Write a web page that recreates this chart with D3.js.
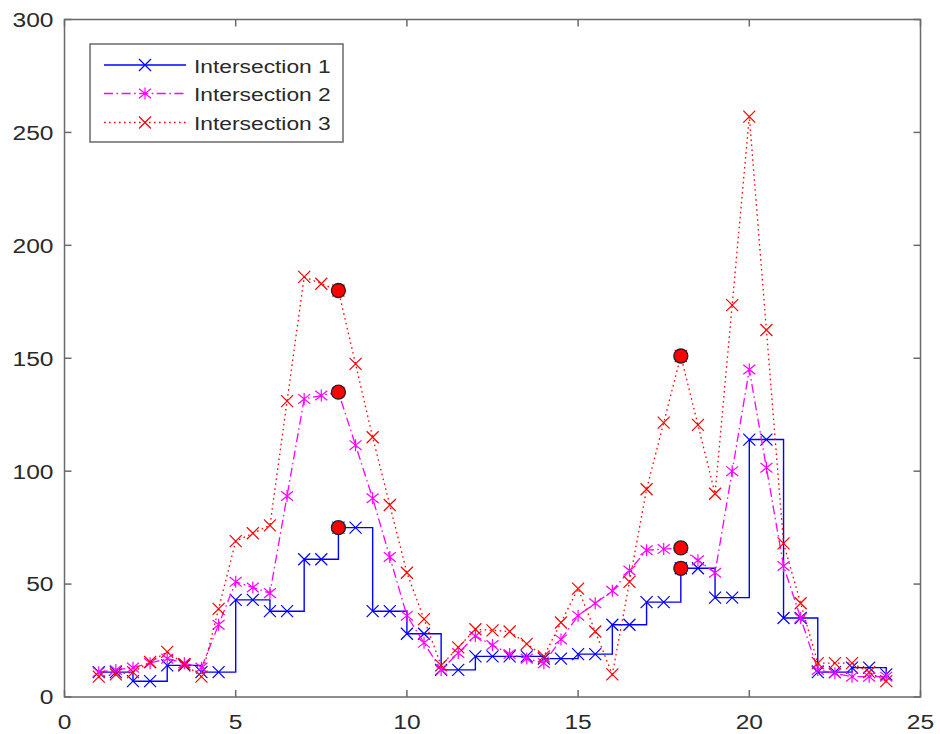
<!DOCTYPE html>
<html>
<head>
<meta charset="utf-8">
<script src="https://cdn.jsdelivr.net/npm/d3@7"></script>
<style>
  html, body { margin: 0; padding: 0; background: #fff; }
  svg { display: block; }
</style>
</head>
<body>
<svg id="chart" width="940" height="734"></svg>
<script>
// ---------- data ----------
const xValues = [1,1.5,2,2.5,3,3.5,4,4.5,5,5.5,6,6.5,7,7.5,8,8.5,9,9.5,10,10.5,11,11.5,12,12.5,
                 13,13.5,14,14.5,15,15.5,16,16.5,17,17.5,18,18.5,19,19.5,20,20.5,21,21.5,22,22.5,23,23.5,24];
const intersection1 = [11,11,7,7,14,14,11,11,43,43,38,38,61,61,75,75,38,38,28,28,12,12,18,18,
                       18,18,17,17,19,19,32,32,42,42,57,57,44,44,114,114,35,35,11,11,13,13,10];
const intersection2 = [11,12,13,15,17,15,13,32,51,48.5,46,89,132,133.5,135,111.5,88,62,36,24,12,19.5,27,23,
                       19,17,15,25.5,36,41.5,47,56,65,65.5,66,60.5,55,100,145,101.5,58,35,12,10.5,9,9,9];
const intersection3 = [9,10,11,15.5,20,14.5,9,39,69,72.5,76,131,186,183,180,147.5,115,85,55,34.5,14,22,30,29.5,
                       29,23.5,18,33,48,29,10,51,92,121.5,151,120.5,90,173.5,257,162.5,68,41.5,15,15,15,11,7];
const highlightX = [8,8,8,18,18,18];
const highlightY = [75,135,180,57,66,151];
const seriesNames = ["Intersection 1","Intersection 2","Intersection 3"];
const xTicks = [0,5,10,15,20,25];
const yTicks = [0,50,100,150,200,250,300];

// ---------- layout ----------
const svg = d3.select("#chart");
const L = 64.5, R = 920.5, T = 19.5, B = 697;
const x = d3.scaleLinear().domain([0,25]).range([L,R]);
const y = d3.scaleLinear().domain([0,300]).range([B,T]);
const textColor = "#2a2a2a";
const axisColor = "#6a6a6a";
const font = "'Liberation Sans', Arial, Helvetica, sans-serif";

function scaledText(parent, px, py, str, size, sx, anchor, baseline) {
  const g = parent.append("g").attr("transform", `translate(${px},${py})`);
  g.append("text")
    .attr("transform", `scale(${sx},1)`)
    .attr("text-anchor", anchor)
    .attr("dominant-baseline", baseline || "central")
    .attr("font-family", font)
    .attr("font-size", size)
    .attr("fill", textColor)
    .text(str);
  return g;
}

// ---------- axes (box, inward ticks on all sides) ----------
const axisG = svg.append("g");
axisG.append("rect").attr("x", L).attr("y", T).attr("width", R - L).attr("height", B - T)
  .attr("fill", "none").attr("stroke", axisColor).attr("stroke-width", 1.5);

const tickLen = 7;
xTicks.forEach(t => {
  const px = x(t);
  axisG.append("line").attr("x1", px).attr("x2", px).attr("y1", B).attr("y2", B - tickLen)
    .attr("stroke", axisColor).attr("stroke-width", 1.5);
  axisG.append("line").attr("x1", px).attr("x2", px).attr("y1", T).attr("y2", T + tickLen)
    .attr("stroke", axisColor).attr("stroke-width", 1.5);
  scaledText(axisG, px, 722, String(t), 21, 1.17, "middle");
});
yTicks.forEach(t => {
  const py = y(t);
  axisG.append("line").attr("x1", L).attr("x2", L + tickLen).attr("y1", py).attr("y2", py)
    .attr("stroke", axisColor).attr("stroke-width", 1.5);
  axisG.append("line").attr("x1", R).attr("x2", R - tickLen).attr("y1", py).attr("y2", py)
    .attr("stroke", axisColor).attr("stroke-width", 1.5);
  scaledText(axisG, 53.5, py, String(t), 21, 1.17, "end");
});

// ---------- markers ----------
function drawX(g, px, py, color, s) {
  g.append("path")
    .attr("d", `M${px - s},${py - s}L${px + s},${py + s}M${px - s},${py + s}L${px + s},${py - s}`)
    .attr("stroke", color).attr("stroke-width", 1.2).attr("fill", "none");
}
function drawStar(g, px, py, color, s) {
  g.append("path")
    .attr("d", `M${px - s},${py - s*0.8}L${px + s},${py + s*0.8}M${px - s},${py + s*0.8}L${px + s},${py - s*0.8}M${px},${py - s}L${px},${py + s}`)
    .attr("stroke", color).attr("stroke-width", 1.2).attr("fill", "none");
}

const seriesDefs = [
  { values: intersection1, color: "#0000ff", dash: null, curve: d3.curveStepAfter, marker: drawX, width: 1.4 },
  { values: intersection2, color: "#ff00ff", dash: "9,3.5,1.6,3.5", curve: d3.curveLinear, marker: drawStar, width: 1.3 },
  { values: intersection3, color: "#ff0000", dash: "1.6,3.4", curve: d3.curveLinear, marker: drawX, width: 1.3 }
];

const plotG = svg.append("g");
seriesDefs.forEach(s => {
  const pts = xValues.map((xv, i) => [xv, s.values[i]]);
  const line = d3.line().x(d => x(d[0])).y(d => y(d[1])).curve(s.curve);
  plotG.append("path").datum(pts).attr("d", line)
    .attr("fill", "none").attr("stroke", s.color).attr("stroke-width", s.width)
    .attr("stroke-dasharray", s.dash);
  const mg = plotG.append("g");
  pts.forEach(d => s.marker(mg, x(d[0]), y(d[1]), s.color, 6));
});

// highlighted points
plotG.selectAll("circle.hl").data(highlightX.map((xv, i) => [xv, highlightY[i]]))
  .enter().append("circle").attr("class", "hl")
  .attr("cx", d => x(d[0])).attr("cy", d => y(d[1])).attr("r", 7)
  .attr("fill", "#ff0000").attr("stroke", "#222").attr("stroke-width", 1.3);

// ---------- legend ----------
const lg = svg.append("g");
lg.append("rect").attr("x", 90).attr("y", 44).attr("width", 253).attr("height", 98)
  .attr("fill", "#fff").attr("stroke", axisColor).attr("stroke-width", 1.5);
const rowY = [65, 93.5, 122.5];
seriesDefs.forEach((s, i) => {
  lg.append("line").attr("x1", 104).attr("x2", 186).attr("y1", rowY[i]).attr("y2", rowY[i])
    .attr("stroke", s.color).attr("stroke-width", s.width).attr("stroke-dasharray", s.dash);
  s.marker(lg, 145, rowY[i], s.color, 6);
  scaledText(lg, 194, rowY[i] + 1, seriesNames[i], 19, 1.2, "start");
});
</script>
</body>
</html>
